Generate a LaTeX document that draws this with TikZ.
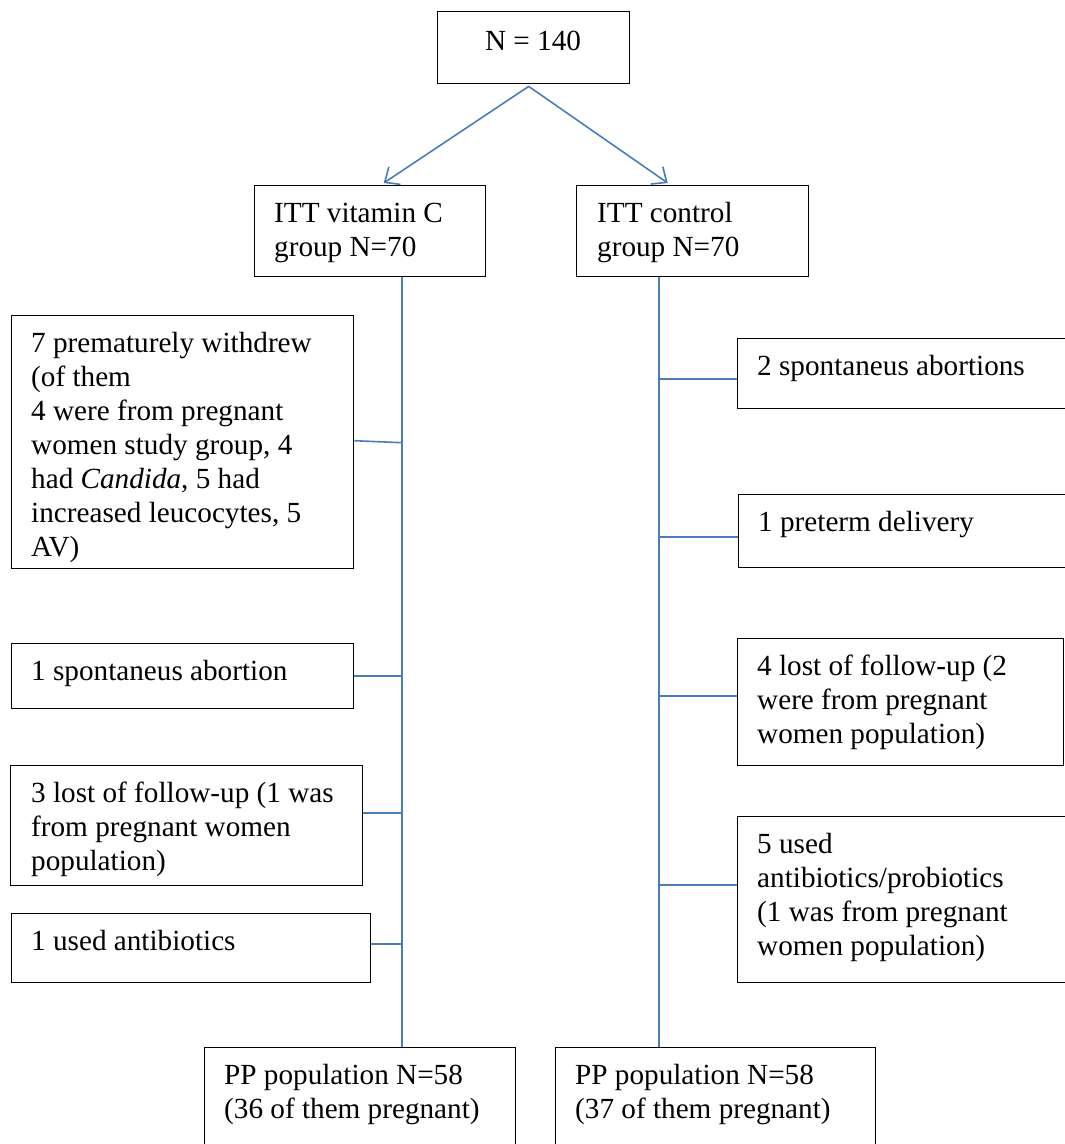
\documentclass[tikz,border=0pt]{standalone}
\usepackage{fontspec}
\setmainfont{Liberation Serif}
\usetikzlibrary{arrows.meta}
\definecolor{linkblue}{HTML}{4A7EBB}
\newcommand\txtsize{\fontsize{29.2pt}{34pt}\selectfont}
\newcommand\mkbox[7]{%
  \node[frame, minimum width=#4pt, minimum height=#5pt] (#1) at (#2,#3) {};
  \node[lbl] (#1t) at ([xshift=#6pt,yshift=-37pt]#1.north west) {\parbox[t]{500pt}{#7}};
}
\begin{document}
\begin{tikzpicture}[x=1pt,y=-1pt,
  frame/.style={draw=black, line width=1.4pt, rectangle, inner sep=0pt, anchor=north west},
  lbl/.style={inner sep=0pt, anchor=base west, font=\txtsize},
  conn/.style={draw=linkblue, line width=1.6pt},
  arr/.style={conn, -{Straight Barb[length=12pt,width=21pt,line width=1.6pt]}}]
\useasboundingbox (0,0) rectangle (1065,1144);
\clip (0,0) rectangle (1065,1144);
\coordinate (Lx) at (402,0);
\coordinate (Rx) at (659,0);
% top
\node[frame, minimum width=192pt, minimum height=72pt] (top) at (437,11) {};
\node[lbl, anchor=base] (topt) at (533,50) {N = 140};
% ITT boxes
\mkbox{itt1}{254}{185}{231}{91}{20}{ITT vitamin C\\group N=70}
\mkbox{itt2}{576}{185}{232}{91}{21}{ITT control\\group N=70}
% left boxes
\mkbox{b1}{11}{315}{342}{253}{20}{7 prematurely withdrew\\(of them\\4 were from pregnant\\women study group, 4\\had \textit{Candida}, 5 had\\increased leucocytes, 5\\AV)}
\mkbox{b2}{11}{643}{342}{65}{20}{1 spontaneus abortion}
\mkbox{b3}{10}{765}{352}{120}{21}{3 lost of follow-up (1 was\\from pregnant women\\population)}
\mkbox{b4}{11}{913}{359}{69}{20}{1 used antibiotics}
% right boxes
\mkbox{r1}{737}{338}{400}{70}{20}{2 spontaneus abortions}
\mkbox{r2}{738}{494}{400}{73}{20}{1 preterm delivery}
\mkbox{r3}{737}{638}{326}{127}{20}{4 lost of follow-up (2\\were from pregnant\\women population)}
\mkbox{r4}{737}{816}{400}{166}{20}{5 used\\antibiotics/probiotics\\(1 was from pregnant\\women population)}
% bottom boxes
\mkbox{pp1}{204}{1047}{311}{200}{20}{PP population N=58\\(36 of them pregnant)}
\mkbox{pp2}{555}{1047}{320}{200}{20}{PP population N=58\\(37 of them pregnant)}
% arrows
\draw[arr] ([xshift=-5pt,yshift=-2pt]top.south) -- ([xshift=13.5pt,yshift=2pt]itt1.north);
\draw[arr] ([xshift=-5pt,yshift=-2pt]top.south) -- ([xshift=-25pt,yshift=2pt]itt2.north);
% spines
\draw[conn] (itt1.south -| Lx) -- (pp1.north -| Lx);
\draw[conn] (itt2.south -| Rx) -- (pp2.north -| Rx);
% left connectors
\draw[conn] ([yshift=1.5pt]b1.east) -- ([yshift=-0.5pt]b1.east -| Lx);
\draw[conn] (b2.east) -- (b2.east -| Lx);
\draw[conn] ([yshift=13pt]b3.east) -- ([yshift=13pt]b3.east -| Lx);
\draw[conn] ([yshift=4.5pt]b4.east) -- ([yshift=4.5pt]b4.east -| Lx);
% right connectors
\draw[conn] ([yshift=-5pt]r1.west) -- ([yshift=-5pt]r1.west -| Rx);
\draw[conn] ([yshift=-5.5pt]r2.west) -- ([yshift=-5.5pt]r2.west -| Rx);
\draw[conn] ([yshift=6.5pt]r3.west) -- ([yshift=6.5pt]r3.west -| Rx);
\draw[conn] ([yshift=15pt]r4.west) -- ([yshift=15pt]r4.west -| Rx);
\end{tikzpicture}
\end{document}
